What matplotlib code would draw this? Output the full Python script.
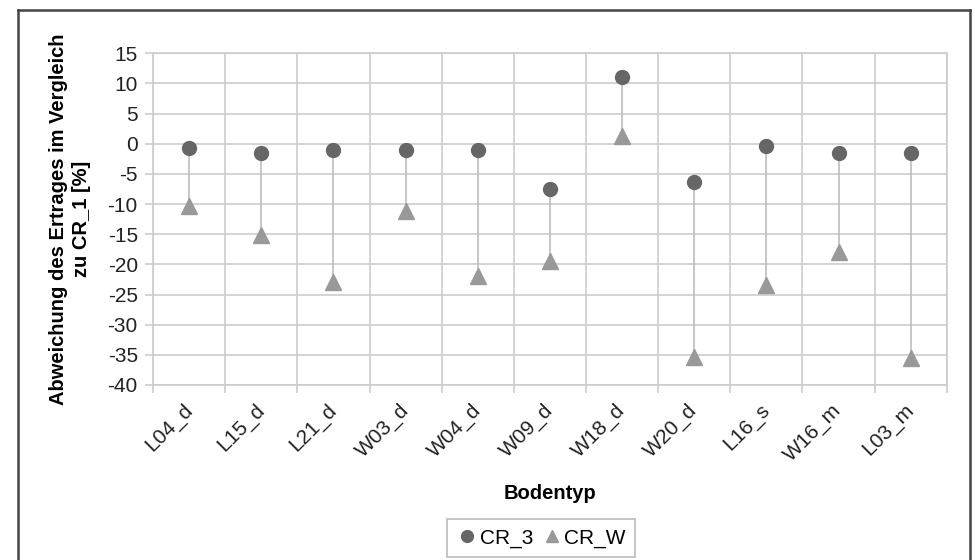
import numpy as np
import matplotlib.pyplot as plt
from matplotlib.lines import Line2D
from matplotlib.transforms import ScaledTranslation

plt.rcParams['font.family'] = ['Liberation Sans', 'DejaVu Sans']
plt.rcParams['axes.unicode_minus'] = False

# Data
soils = ['L04_d', 'L15_d', 'L21_d', 'W03_d', 'W04_d', 'W09_d',
         'W18_d', 'W20_d', 'L16_s', 'W16_m', 'L03_m']
cr_3 = [-0.7, -1.5, -1.0, -1.0, -1.0, -7.5, 11.0, -6.3, -0.4, -1.5, -1.5]
cr_w = [-10.3, -15.2, -23.0, -11.2, -21.9, -19.5, 1.2, -35.3, -23.5, -17.9, -35.5]
yticks = list(range(-40, 20, 5))

grid_col = '#cccccc'

fig = plt.figure(figsize=(9.75, 5.6), dpi=100)
ax = fig.add_axes([0.157, 0.3125, 0.814, 0.5925])

x = np.arange(len(soils))
for xi, a, b in zip(x, cr_3, cr_w):
    ax.plot([xi, xi], [a, b], color='#bdbdbd', lw=1.2, zorder=2)
ax.plot(x, cr_3, 'o', color='#666666', ms=10, mec='#666666', label='CR_3', zorder=3)
ax.plot(x, cr_w, '^', color='#999999', ms=11, mec='#999999', label='CR_W', zorder=3)

ax.set_xlim(-0.5, len(soils) - 0.5)
ax.set_ylim(-40, 15)
ax.set_yticks(yticks)
ax.set_xticks(np.arange(-0.5, len(soils)), labels=[])
ax.set_xticks(x, minor=True)
ax.set_xticklabels(soils, minor=True, rotation=45, ha='right', va='center',
                   rotation_mode='anchor', fontsize=15, color='#222222')
shift = ScaledTranslation(-0.08, 0, fig.dpi_scale_trans)
for lbl in ax.get_xticklabels(minor=True):
    lbl.set_transform(lbl.get_transform() + shift)
ax.tick_params(axis='x', which='minor', length=0, pad=16)
ax.tick_params(axis='x', which='major', length=6, color=grid_col, width=1.2)
ax.tick_params(axis='y', length=6, color=grid_col, width=1.2, labelsize=15,
               labelcolor='#222222', pad=5)
ax.grid(True, which='major', color=grid_col, lw=1.2, zorder=0)
ax.set_axisbelow(True)
for s in ax.spines.values():
    s.set_color(grid_col)
    s.set_linewidth(1.2)

ax.set_ylabel('Abweichung des Ertrages im Vergleich\nzu CR_1 [%]',
              fontsize=14.5, fontweight='bold', linespacing=1.25)
ax.yaxis.set_label_coords(-0.078, 0.5)
ax.set_xlabel('Bodentyp', fontsize=14.5, fontweight='bold')
ax.xaxis.set_label_coords(0.5, -0.328)
ax.xaxis.label.set_va('center')

leg = fig.legend(loc='center', bbox_to_anchor=(0.555, 0.039), ncol=2,
                 fontsize=15, frameon=True, fancybox=False, edgecolor='#aaaaaa',
                 handletextpad=0.1, columnspacing=0.4, handlelength=1.0,
                 borderpad=0.45, markerscale=0.85)
leg.get_frame().set_linewidth(1.2)

# outer chart frame (open at the bottom edge of the image)
fl, fr, ft = 18 / 975, 970 / 975, 1 - 10 / 560
for xs, ys in [([fl, fl], [0, ft]), ([fl, fr], [ft, ft]), ([fr, fr], [ft, 0])]:
    fig.add_artist(Line2D(xs, ys, transform=fig.transFigure,
                          color='#444444', lw=1.8))

fig.savefig('out.png', dpi=100)
